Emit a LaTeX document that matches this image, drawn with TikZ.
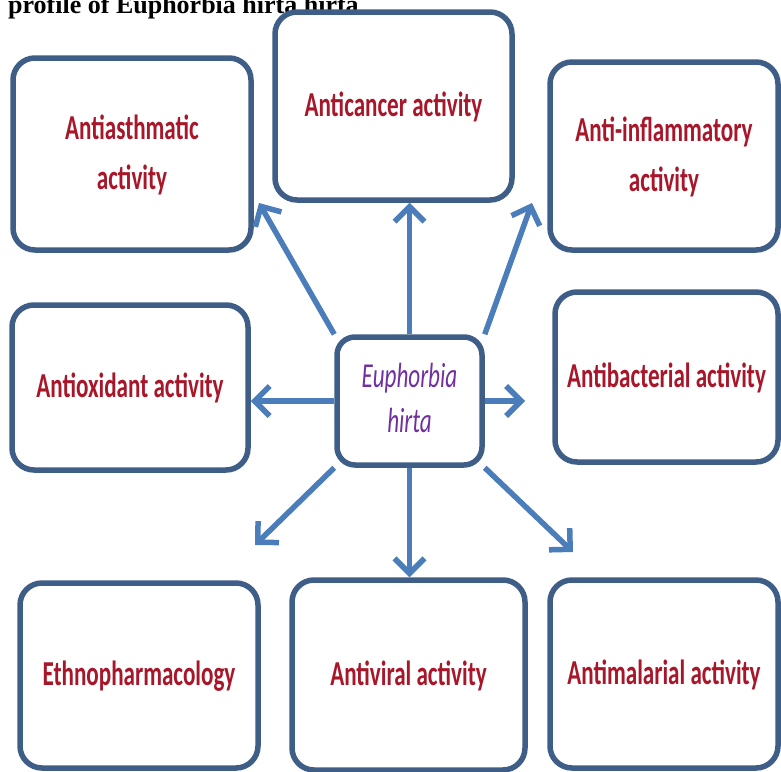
\documentclass[tikz,border=0pt]{standalone}
\usepackage{graphicx}
\usepackage{fontspec}
\setmainfont{Carlito}
\newfontfamily\headfont{Liberation Serif}
\usetikzlibrary{arrows.meta}
\definecolor{Frame}{HTML}{3F5E87}
\definecolor{Shaft}{HTML}{4A7DBA}
\definecolor{Label}{HTML}{A8162A}
\definecolor{Plant}{HTML}{7030A0}
\newcommand{\squeeze}[1]{\scalebox{0.66}[1]{\begin{tabular}{@{}c@{}}#1\end{tabular}}}
\tikzset{
  activity/.style={
    rounded corners=22pt, draw=Frame, line width=5.5pt, fill=white,
    text=Label, font=\fontsize{35}{50}\selectfont\bfseries, inner sep=0pt
  },
  plant/.style={
    activity, rounded corners=18pt, text=Plant,
    font=\fontsize{35}{45}\selectfont\itshape
  },
  link/.style={-{Straight Barb[length=15pt,width=30pt]}, line width=5.5pt, draw=Shaft}
}

\begin{document}
\begin{tikzpicture}[x=1pt,y=-1pt]
    \useasboundingbox (0,0) rectangle (781,771);
    \clip (0,0) rectangle (781,771);
    \node[anchor=base west,inner sep=0pt,font=\headfont\bfseries\fontsize{26}{30}\selectfont] (title) at (8,13) {profile of Euphorbia hirta hirta};
    \node[activity,minimum width=238pt,minimum height=192pt] (asthma) at (132,154) {\squeeze{Antiasthmatic\\activity}};
    \node[activity,minimum width=237pt,minimum height=188pt] (cancer) at (393.5,106) {\squeeze{Anticancer activity}};
    \node[activity,minimum width=228pt,minimum height=188pt] (inflam) at (664,156) {\squeeze{Anti-inflammatory\\activity}};
    \node[activity,minimum width=236pt,minimum height=165pt] (oxid) at (130,387.5) {\squeeze{Antioxidant activity}};
    \node[activity,minimum width=223pt,minimum height=170pt] (bact) at (666.5,377) {\squeeze{Antibacterial activity}};
    \node[activity,minimum width=238pt,minimum height=185pt] (ethno) at (139,675.5) {\squeeze{Ethnopharmacology}};
    \node[activity,minimum width=233pt,minimum height=190pt] (viral) at (408.5,675) {\squeeze{Antiviral activity}};
    \node[activity,minimum width=228pt,minimum height=188pt] (malar) at (664,674) {\squeeze{Antimalarial activity}};
    \node[plant,minimum width=145pt,minimum height=128pt] (core) at (409.5,401) {\squeeze{Euphorbia\\hirta}};
    \coordinate (asthmaTip) at (259,203);
    \coordinate (inflamTip) at (532,203);
    \coordinate (bactTip) at (525,401);
    \coordinate (ethnoTip) at (255,545);
    \coordinate (malarTip) at (573,552);
    \draw[link] (core.north) -- (core.north |- cancer.south);
    \draw[link] (core.north west) -- (asthmaTip);
    \draw[link] (core.north east) -- (inflamTip);
    \draw[link] (core.west) -- (core.west -| oxid.east);
    \draw[link] (core.east) -- (bactTip);
    \draw[link] (core.south west) -- (ethnoTip);
    \draw[link] (core.south) -- (core.south |- viral.north);
    \draw[link] (core.south east) -- (malarTip);
  \end{tikzpicture}
\end{document}
